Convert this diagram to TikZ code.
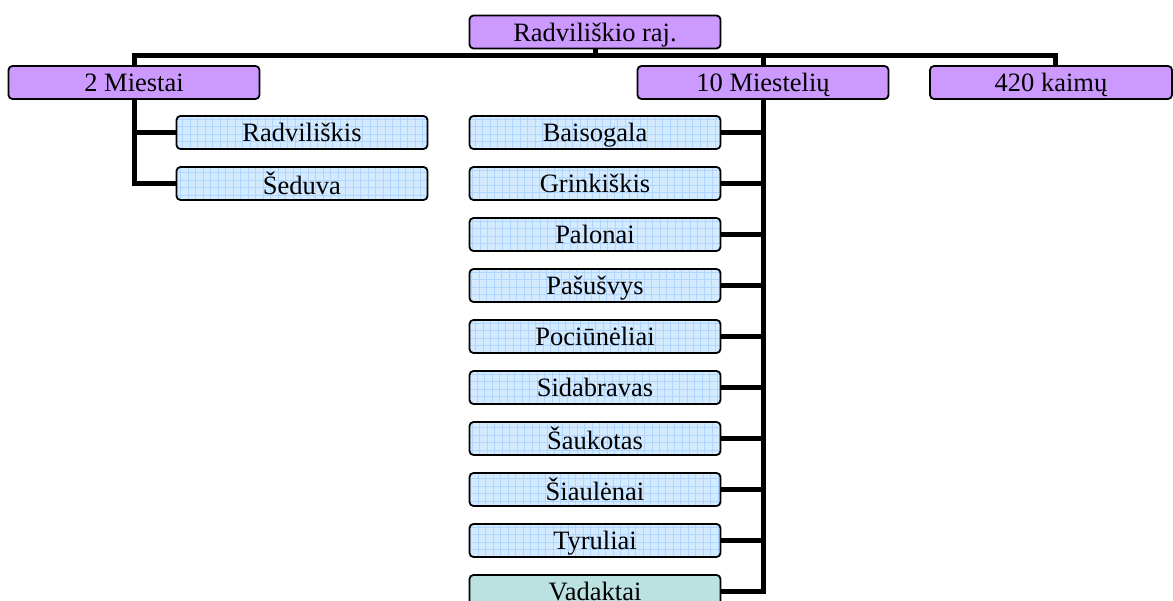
\documentclass[tikz,border=0pt]{standalone}
\usepackage{fontspec}
\setmainfont{Liberation Serif}
\definecolor{purp}{HTML}{CC99FF}
\definecolor{lblue}{HTML}{D4EAFF}
\definecolor{gridblue}{HTML}{B0D6FF}
\definecolor{teal}{HTML}{BBE1E1}
\begin{document}
\begin{tikzpicture}[x=1pt,y=-1pt,
  box/.style={draw=black, line width=1.8pt, rounded corners=4pt, minimum width=251pt, minimum height=33pt, inner sep=0pt, font=\fontsize{26.5}{30}\selectfont, text depth=0pt},
  head/.style={box, fill=purp},
  gridbox/.style={box, fill=lblue, path picture={\draw[gridblue, line width=0.6pt, step=7.5pt] ([shift={(-1pt,-1pt)}]path picture bounding box.south west) grid ([shift={(1pt,1pt)}]path picture bounding box.north east);}},
  tealbox/.style={box, fill=teal},
  conn/.style={line width=5pt, black}
]
\useasboundingbox (0,0) rectangle (1173,601);
\clip (0,0) rectangle (1173,601);

\coordinate (hl) at (0,56);

\node[head] (top) at (595,32) {Radviliškio raj.};
\node[head] (m2) at (134,82.5) {2 Miestai};
\node[head] (m10) at (763,82.5) {10 Miestelių};
\node[head, minimum width=242pt] (k420) at (1051,82.5) {420 kaimų};

\node[gridbox] (radv) at (302,132.5) {Radviliškis};
\node[gridbox] (sed) at (302,183.5) {Šeduva};

\node[gridbox] (c1) at (595,132.5) {Baisogala};
\node[gridbox] (c2) at (595,183.5) {Grinkiškis};
\node[gridbox] (c3) at (595,234.5) {Palonai};
\node[gridbox] (c4) at (595,285.5) {Pašušvys};
\node[gridbox] (c5) at (595,336.5) {Pociūnėliai};
\node[gridbox] (c6) at (595,387.5) {Sidabravas};
\node[gridbox] (c7) at (595,438.5) {Šaukotas};
\node[gridbox] (c8) at (595,489.5) {Šiaulėnai};
\node[gridbox] (c9) at (595,540.5) {Tyruliai};
\node[tealbox] (c10) at (595,591.5) {Vadaktai};

\coordinate (k420top) at (1055.5,66);
\draw[conn] (top.south) -- (top.south |- hl);
\draw[conn] (m2.north) -- (m2.north |- hl) -- (k420top |- hl) -- (k420top);
\draw[conn] (m10.north) -- (m10.north |- hl);
\draw[conn] (m2.south) |- (radv.west);
\draw[conn] (m2.south |- radv.west) |- (sed.west);
\draw[conn] (m10.south) |- (c10.east);
\foreach \c in {c1,c2,c3,c4,c5,c6,c7,c8,c9}
  \draw[conn] (\c.east) -- (\c.east -| m10.south);
\end{tikzpicture}
\end{document}
